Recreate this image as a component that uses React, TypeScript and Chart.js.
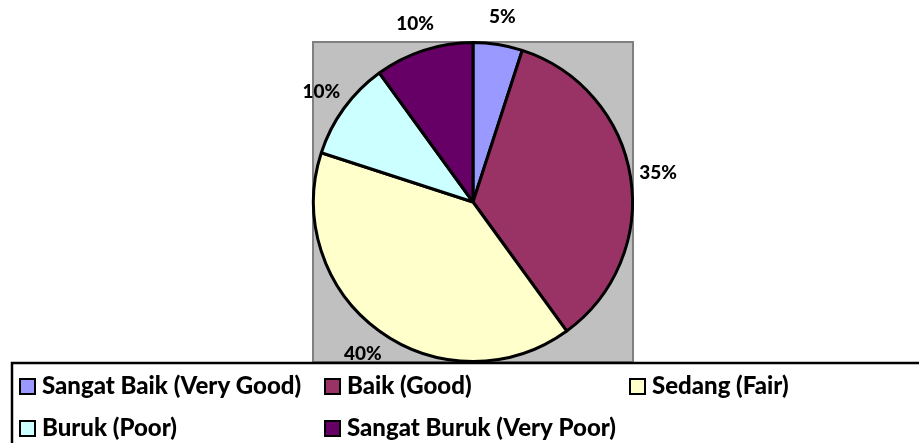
import React, { useEffect, useRef } from "react";
import { Chart, registerables } from "chart.js";

Chart.register(...registerables);

// Survey answer categories, their shares (percent) and slice fills
const categories = [
  "Sangat Baik (Very Good)",
  "Baik (Good)",
  "Sedang (Fair)",
  "Buruk (Poor)",
  "Sangat Buruk (Very Poor)",
];
const shares = [5, 35, 40, 10, 10];
const sliceColors = ["#9999FF", "#993366", "#FFFFCC", "#CCFFFF", "#660066"];

const FONT_FAMILY = "Lato, 'Open Sans', sans-serif";
const LABEL_FONT = `900 19px ${FONT_FAMILY}`;
const LEGEND_FONT = `900 24px ${FONT_FAMILY}`;

// Gray square plot area behind the pie
const plotBackground = {
  id: "plotBackground",
  beforeDatasetsDraw(chart: any) {
    const { ctx, chartArea } = chart;
    const { left, top, right, bottom } = chartArea;
    ctx.save();
    ctx.fillStyle = "#C0C0C0";
    ctx.fillRect(left, top, right - left, bottom - top);
    ctx.strokeStyle = "#808080";
    ctx.lineWidth = 2;
    ctx.strokeRect(left + 1, top + 1, right - left - 2, bottom - top - 2);
    ctx.restore();
  },
};

// Percentage labels placed just outside each slice
const percentLabels = {
  id: "percentLabels",
  afterDatasetsDraw(chart: any) {
    const { ctx } = chart;
    const meta = chart.getDatasetMeta(0);
    const values: number[] = chart.data.datasets[0].data;
    const total = values.reduce((a, b) => a + b, 0);
    ctx.save();
    ctx.font = LABEL_FONT;
    ctx.fillStyle = "#000000";
    ctx.textAlign = "center";
    ctx.textBaseline = "middle";
    meta.data.forEach((arc: any, i: number) => {
      const { x, y, startAngle, endAngle, outerRadius } = arc.getProps(
        ["x", "y", "startAngle", "endAngle", "outerRadius"],
        true
      );
      const mid = (startAngle + endAngle) / 2;
      const dist = outerRadius + 28;
      const pct = Math.round((values[i] / total) * 100);
      ctx.fillText(`${pct}%`, x + Math.cos(mid) * dist, y + Math.sin(mid) * dist);
    });
    ctx.restore();
  },
};

// Boxed legend laid out in a three-column grid below the plot
const boxLegend = {
  id: "boxLegend",
  afterDraw(chart: any) {
    const { ctx, width, height } = chart;
    const labels: string[] = chart.data.labels;
    const colors: string[] = chart.data.datasets[0].backgroundColor;
    const boxLeft = 12;
    const boxTop = 363;
    ctx.save();
    ctx.fillStyle = "#FFFFFF";
    ctx.fillRect(boxLeft, boxTop, width - boxLeft + 10, height - boxTop + 10);
    ctx.strokeStyle = "#000000";
    ctx.lineWidth = 2.5;
    ctx.strokeRect(boxLeft, boxTop, width - boxLeft + 10, height - boxTop + 10);

    const colStart = 20;
    const colStep = 305;
    const rowBaselines = [394, 436];
    const marker = 15;
    ctx.font = LEGEND_FONT;
    ctx.textAlign = "left";
    ctx.textBaseline = "alphabetic";
    labels.forEach((label, i) => {
      const col = i % 3;
      const row = Math.floor(i / 3);
      const mx = colStart + col * colStep;
      const base = rowBaselines[row];
      const my = base - marker;
      ctx.fillStyle = colors[i];
      ctx.fillRect(mx, my, marker, marker);
      ctx.strokeStyle = "#000000";
      ctx.lineWidth = 2;
      ctx.strokeRect(mx, my, marker, marker);
      ctx.fillStyle = "#000000";
      ctx.fillText(label, mx + 22, base);
    });
    ctx.restore();
  },
};

export default function App() {
  const canvasRef = useRef<HTMLCanvasElement | null>(null);

  useEffect(() => {
    if (!canvasRef.current) return;
    const chart = new Chart(canvasRef.current, {
      type: "pie",
      data: {
        labels: categories,
        datasets: [
          {
            data: shares,
            backgroundColor: sliceColors,
            borderColor: "#000000",
            borderWidth: 3,
          },
        ],
      },
      options: {
        responsive: false,
        animation: false,
        layout: { padding: { left: 312, right: 285, top: 41, bottom: 80 } },
        plugins: {
          legend: { display: false },
          tooltip: { enabled: false },
        },
      },
      plugins: [plotBackground, percentLabels, boxLegend],
    });
    return () => chart.destroy();
  }, []);

  return (
    <div style={{ position: "fixed", left: 0, top: 0, width: 919, height: 443, background: "#FFFFFF" }}>
      <canvas ref={canvasRef} width={919} height={443} style={{ width: 919, height: 443, display: "block" }} />
    </div>
  );
}
